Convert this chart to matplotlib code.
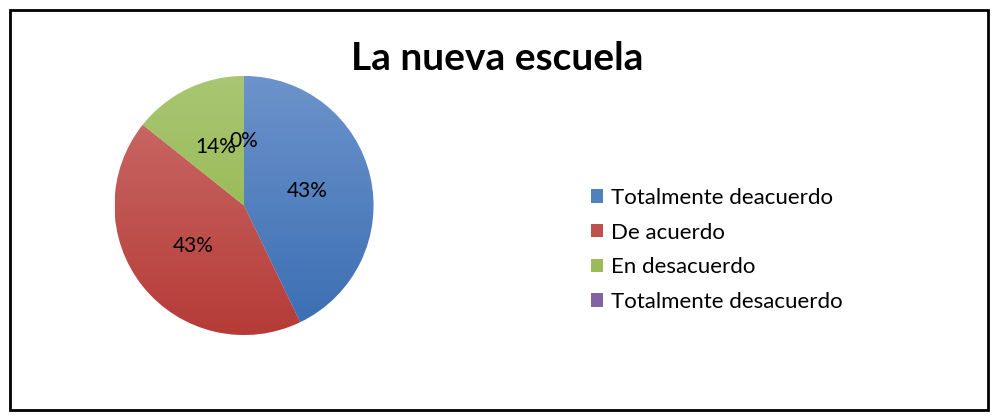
import numpy as np
import matplotlib.pyplot as plt
from matplotlib.patches import Patch, Rectangle
from matplotlib.colors import LinearSegmentedColormap

plt.rcParams['font.family'] = ['Lato', 'DejaVu Sans']

# data
categories = ['Totalmente deacuerdo', 'De acuerdo', 'En desacuerdo', 'Totalmente desacuerdo']
values = [3, 3, 1, 0]
title = 'La nueva escuela'

# legend / base colours, plus top and bottom shades for the gradient fill
base_colors = ['#4F81BD', '#C0504D', '#9BBB59', '#8064A2']
top_colors = ['#6C93CB', '#CB6F6C', '#A9C673', '#9580B5']
bottom_colors = ['#3A6DB2', '#B63B37', '#8DB241', '#6E5392']

W, H = 993, 416
fig = plt.figure(figsize=(W / 100, H / 100), dpi=100)

# pie axes, square in pixels
cx, cy, r = 244, 205.5, 129.5
ax = fig.add_axes([(cx - r) / W, (H - cy - r) / H, 2 * r / W, 2 * r / H])

wedges, texts, autotexts = ax.pie(
    values, colors=base_colors, startangle=90, counterclock=False,
    autopct='%1.0f%%', pctdistance=0.5, radius=1,
    textprops={'fontsize': 15, 'color': 'black'},
    wedgeprops={'linewidth': 0.6, 'edgecolor': 'white'})

# vertical gradient inside each wedge
grad = np.linspace(0, 1, 256).reshape(-1, 1)
for w, top, bot in zip(wedges, top_colors, bottom_colors):
    cmap = LinearSegmentedColormap.from_list('g', [top, bot])
    im = ax.imshow(grad, cmap=cmap, extent=[-1, 1, -1, 1], aspect='auto',
                   origin='upper', zorder=w.get_zorder() + 0.1)
    im.set_clip_path(w)
for t in autotexts:
    t.set_zorder(5)

ax.set_xlim(-1, 1)
ax.set_ylim(-1, 1)
ax.set_aspect('auto')
ax.axis('off')

fig.text(497 / W, 1 - 58 / H, title, ha='center', va='center',
         fontsize=28, fontweight='bold')

handles = [Patch(facecolor=c, edgecolor='none') for c in base_colors]
fig.legend(handles, categories, loc='upper left',
           bbox_to_anchor=(582 / W, 1 - 179 / H), frameon=False,
           fontsize=16, handlelength=0.55, handleheight=0.55,
           handletextpad=0.35, labelspacing=0.66, borderaxespad=0)

# outer chart border
fig.patches.append(Rectangle((10 / W, 6 / H), 978 / W, 400 / H,
                             transform=fig.transFigure, fill=False,
                             edgecolor='black', linewidth=2))

fig.savefig('out.png', dpi=100)
